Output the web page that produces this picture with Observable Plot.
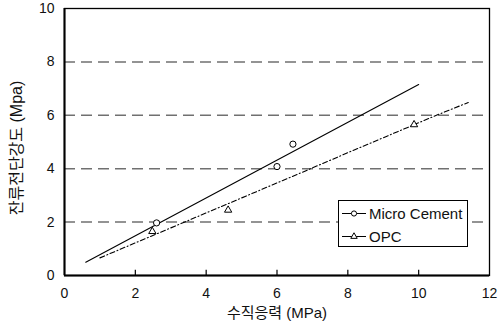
<!DOCTYPE html>
<html><head><meta charset="utf-8">
<script src="https://cdn.jsdelivr.net/npm/d3@7"></script>
<script src="https://cdn.jsdelivr.net/npm/@observablehq/plot@0.6"></script>
<style>body{margin:0;background:#fff} #chart{width:499px;height:324px}</style>
</head><body><div id="chart"></div>
<script>
// ---- data ----
const seriesNames = ["Micro Cement", "OPC"];
const mcX = [2.6, 6.0, 6.45];
const mcY = [1.97, 4.08, 4.92];
const opcX = [2.48, 4.62, 9.87];
const opcY = [1.65, 2.45, 5.65];
const mcFitX = [0.6, 10.0];
const mcFitY = [0.5, 7.15];
const opcFitX = [1.0, 4.6, 6.95, 8.0, 10.5, 11.4];
const opcFitY = [0.66, 2.68, 4.0, 4.6, 6.0, 6.48];
const xTicks = [0, 2, 4, 6, 8, 10, 12];
const yTicks = [0, 2, 4, 6, 8, 10];
const gridY = [2, 4, 6, 8];
const innerXTicks = [2, 4, 6, 8, 10];
const xTitle = "수직응력 (MPa)";
const yTitle = "잔류전단강도 (Mpa)";

const zip = (xs, ys) => xs.map((x, i) => ({x, y: ys[i]}));
const mc = zip(mcX, mcY), opc = zip(opcX, opcY);
const mcFit = zip(mcFitX, mcFitY), opcFit = zip(opcFitX, opcFitY);

const font = "'Liberation Sans', Arial, 'Noto Sans CJK KR', sans-serif";
const opcDash = "5,2.5,1,2.5";

const svg = Plot.plot({
  width: 499, height: 324,
  marginLeft: 64, marginRight: 10, marginTop: 8, marginBottom: 49,
  style: {fontFamily: font, fontSize: "14px", color: "#111", background: "#fff", overflow: "visible"},
  x: {domain: [0, 12]},
  y: {domain: [0, 10]},
  marks: [
    Plot.ruleY(gridY, {stroke: "#707070", strokeWidth: 1.5, strokeDasharray: "11,6"}),
    Plot.ruleX(innerXTicks, {y1: 0, y2: 0.2, stroke: "#000", strokeWidth: 1.2}),
    Plot.line(mcFit, {x: "x", y: "y", stroke: "#000", strokeWidth: 1.1}),
    Plot.line(opcFit, {x: "x", y: "y", stroke: "#000", strokeWidth: 1.1, strokeDasharray: opcDash}),
    Plot.dot(mc, {x: "x", y: "y", r: 3.1, stroke: "#000", fill: "#fff", strokeWidth: 1}),
    Plot.dot(opc, {x: "x", y: "y", symbol: "triangle", r: 2.7, stroke: "#000", fill: "#fff", strokeWidth: 1}),
    Plot.frame({stroke: "#000", strokeWidth: 1.3}),
    Plot.ruleX([0], {stroke: "#000", strokeWidth: 2}),
    Plot.ruleY([0], {stroke: "#000", strokeWidth: 2}),
    Plot.axisX(xTicks, {tickSize: 0, tickPadding: 13, fontSize: 14, label: null}),
    Plot.axisY(yTicks, {tickSize: 0, tickPadding: 10, fontSize: 14, label: null}),
    Plot.text([xTitle], {frameAnchor: "bottom", textAnchor: "middle", dy: 42, fontSize: 15, fill: "#111"}),
    Plot.text([yTitle], {frameAnchor: "left", textAnchor: "middle", rotate: -90, dx: -48, dy: 6, fontSize: 16, fill: "#111"})
  ]
});
document.getElementById("chart").appendChild(svg);

// ---- legend ----
const g = d3.select(svg).append("g").attr("font-family", font).attr("font-size", 15);
g.append("rect").attr("x", 338.5).attr("y", 200.5).attr("width", 129).attr("height", 46)
  .attr("fill", "#fff").attr("stroke", "#000").attr("stroke-width", 1);
const rows = [{name: seriesNames[0], sym: d3.symbolCircle, size: Math.PI * 2.6 * 2.6, y: 213.5},
              {name: seriesNames[1], sym: d3.symbolTriangle, size: Math.PI * 2.4 * 2.4, y: 236.5}];
rows.forEach(r => {
  g.append("line").attr("x1", 342).attr("x2", 366).attr("y1", r.y).attr("y2", r.y)
    .attr("stroke", "#000").attr("stroke-width", 1);
  g.append("path").attr("d", d3.symbol(r.sym, r.size)()).attr("transform", `translate(354,${r.y})`)
    .attr("fill", "#fff").attr("stroke", "#000").attr("stroke-width", 1);
  g.append("text").attr("x", 369).attr("y", r.y).attr("dy", "0.35em")
    .attr("text-anchor", "start").attr("fill", "#111").text(r.name);
});
</script>
</body></html>
